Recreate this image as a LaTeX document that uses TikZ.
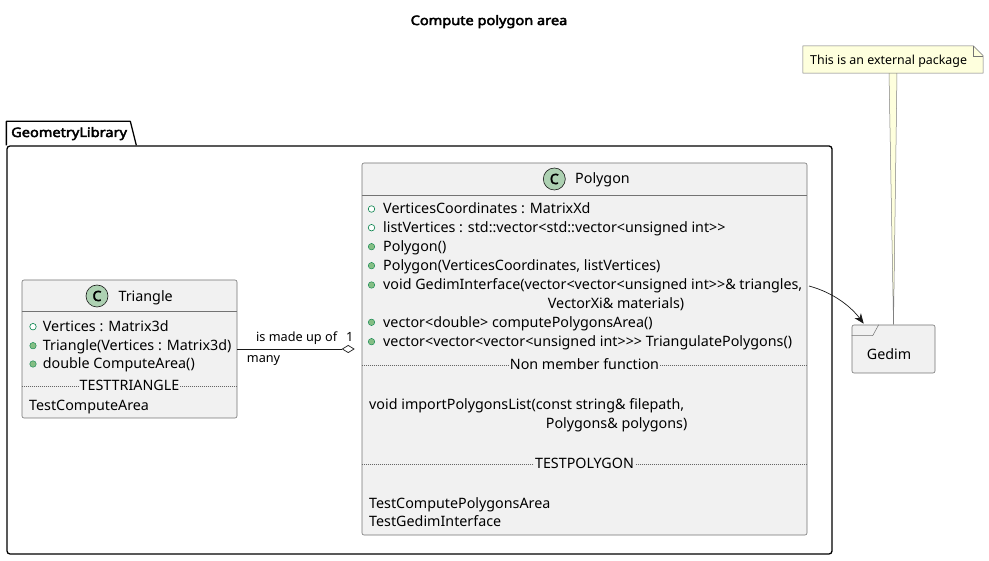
\documentclass[tikz,border=0pt]{standalone}
\usepackage{fontspec}
\setmainfont{Noto Sans}
\newfontfamily\bsans{Noto Sans}[FakeBold=3.5, FakeStretch=1.12]
\newfontfamily\csans{Noto Sans}[FakeBold=3]
\usetikzlibrary{arrows.meta,calc}
\definecolor{classbg}{HTML}{F1F1F1}
\definecolor{circbg}{HTML}{ADD1B2}
\definecolor{icondark}{HTML}{038048}
\definecolor{iconfill}{HTML}{84BE84}
\definecolor{notebg}{HTML}{FEFFDD}
\definecolor{lineclr}{HTML}{181818}
\begin{document}
\begin{tikzpicture}[x=1pt,y=-1pt,
  classbox/.style={draw=black!55, line width=0.6pt, fill=classbg, rounded corners=2pt, inner sep=0},
  txt/.style={anchor=base west, inner sep=0, font=\fontsize{14.3}{16}\selectfont},
  ctxt/.style={anchor=base, inner sep=0, font=\fontsize{14.3}{16}\selectfont},
  septxt/.style={anchor=base, inner xsep=1pt, inner ysep=0, fill=classbg, font=\fontsize{14.3}{16}\selectfont},
  sepline/.style={draw=black!55, line width=0.5pt},
  dsep/.style={draw=black!60, line width=0.5pt, dash pattern=on 1pt off 1pt},
  attr/.style={circle, draw=icondark, line width=0.6pt, fill=white, inner sep=0, minimum size=6.5pt},
  meth/.style={circle, draw=icondark, line width=0.4pt, fill=iconfill, inner sep=0, minimum size=6.5pt},
  cicon/.style={circle, draw=lineclr, line width=0.6pt, fill=circbg, inner sep=0, minimum size=22pt, font=\csans\fontsize{14}{14}\selectfont},
  lbl/.style={anchor=base west, inner sep=0, font=\fontsize{12.7}{15}\selectfont},
  conn/.style={draw=lineclr, line width=0.7pt},
  btxt/.style={inner sep=0, font=\bsans\fontsize{13}{15}\selectfont},
]
\useasboundingbox (0,0) rectangle (989,561);

% title
\node[btxt, anchor=base] (title) at (489,25) {Compute polygon area};

% package
\node[draw=black, line width=1.3pt, rounded corners=3pt, minimum width=825pt, minimum height=408pt, inner sep=0] (pkg) at (419.5,350) {};
\draw[black, line width=1.3pt, line join=round] (pkg.north west) -- ($(pkg.north west)+(0,-24)$) -- ($(pkg.north west)+(124,-24)$) -- ($(pkg.north west)+(130,0)$);
\node[btxt, anchor=base west] (pkgname) at (11,137) {GeometryLibrary};

% Triangle class
\node[classbox, minimum width=215pt, minimum height=138pt] (tri) at (129.5,349) {};
\draw[sepline] (tri.west |- 0,311) -- (tri.east |- 0,311);
\node[cicon] (tric) at (97,296) {C};
\node[txt] (trin) at (118.3,301.7) {Triangle};
\node[attr] (tri1i) at (33,326.7) {};
\node[txt] (tri1) at (42.7,331.7) {Vertices : Matrix3d};
\node[meth] (tri2i) at (33,345.7) {};
\node[txt] (tri2) at (42.7,350.7) {Triangle(Vertices : Matrix3d)};
\node[meth] (tri3i) at (33,364) {};
\node[txt] (tri3) at (42.7,369) {double ComputeArea()};
\draw[dsep] (tri.west |- 0,386) -- (tri.east |- 0,386);
\node[septxt] (tris) at (129.5,391) {TESTTRIANGLE};
\node[txt] (tri4) at (29,411) {TestComputeArea};

% Polygon class
\node[classbox, minimum width=445pt, minimum height=372pt] (poly) at (584.5,349) {};
\draw[sepline] (poly.west |- 0,195) -- (poly.east |- 0,195);
\node[cicon] (polyc) at (554.3,179) {C};
\node[txt] (polyn) at (575,184) {Polygon};
\node[attr] (p1i) at (371.5,209) {};
\node[txt] (p1) at (383,214) {VerticesCoordinates : MatrixXd};
\node[attr] (p2i) at (371.5,227.7) {};
\node[txt] (p2) at (383,232.7) {listVertices : std::vector<std::vector<unsigned int>{}>};
\node[meth] (p3i) at (371.5,246.7) {};
\node[txt] (p3) at (383,251.7) {Polygon()};
\node[meth] (p4i) at (371.5,265.7) {};
\node[txt] (p4) at (383,270.7) {Polygon(VerticesCoordinates, listVertices)};
\node[meth] (p5i) at (371.5,285) {};
\node[txt] (p5) at (383,290) {void GedimInterface(vector<vector<unsigned int>{}>\& triangles,};
\node[txt] (p5b) at (547.7,308.3) {VectorXi\& materials)};
\node[meth] (p6i) at (371.5,322.3) {};
\node[txt] (p6) at (383,327.3) {vector<double> computePolygonsArea()};
\node[meth] (p7i) at (371.5,341.7) {};
\node[txt] (p7) at (383,346.7) {vector<vector<vector<unsigned int>{}>{}> TriangulatePolygons()};
\draw[dsep] (poly.west |- 0,365) -- (poly.east |- 0,365);
\node[septxt] (pnm) at (584.5,370) {Non member function};
\node[txt] (p8) at (369,409.3) {void importPolygonsList(const string\& filepath,};
\node[txt] (p8b) at (545.7,428.3) {Polygons\& polygons)};
\draw[dsep] (poly.west |- 0,464.3) -- (poly.east |- 0,464.3);
\node[septxt] (pts) at (584.5,469) {TESTPOLYGON};
\node[txt] (p9) at (369,508.3) {TestComputePolygonsArea};
\node[txt] (p10) at (369,526.7) {TestGedimInterface};

% Gedim package
\node[classbox, minimum width=83pt, minimum height=48pt] (gedim) at (893.5,349) {};
\draw[sepline] ($(gedim.north west)+(0,11)$) -- ($(gedim.north west)+(21,11)$) -- ($(gedim.north west)+(27,0)$);
\node[txt] (gedimn) at (866.7,359.3) {Gedim};

% note
\node[inner sep=0, minimum width=180pt, minimum height=27pt] (note) at (893,59.5) {};
\draw[draw=black!50, line width=0.5pt, fill=notebg] ($(note.south)+(-4,-1)$) -- (gedim.north) -- ($(note.south)+(4,-1)$) -- cycle;
\draw[draw=black!55, line width=0.5pt, fill=notebg] (note.north west) -- ($(note.north east)+(-10,0)$) -- ($(note.north east)+(0,10)$) -- (note.south east) -- (note.south west) -- cycle;
\draw[draw=black!55, line width=0.5pt] ($(note.north east)+(-10,0)$) -- ($(note.north east)+(-10,10)$) -- ($(note.north east)+(0,10)$);
\node[lbl, font=\fontsize{12.4}{15}\selectfont] (notet) at (810,65) {This is an external package};

% association
\draw[conn, -{Diamond[open, length=13pt, width=8pt]}, shorten >=7pt] (tri.east) -- (poly.west);
\node[lbl] (l1) at (256,341.7) {is made up of};
\node[lbl] (l2) at (346,342) {1};
\node[lbl] (l3) at (246.7,363) {many};

% dependency arrow
\coordinate (gstart) at (809,286);
\draw[conn, -{Stealth[length=10pt, width=8pt, inset=3pt]}] (gstart) .. controls (835,293) and (852,308) .. ($(gedim.north west)+(12,-1)$);
\end{tikzpicture}
\end{document}
